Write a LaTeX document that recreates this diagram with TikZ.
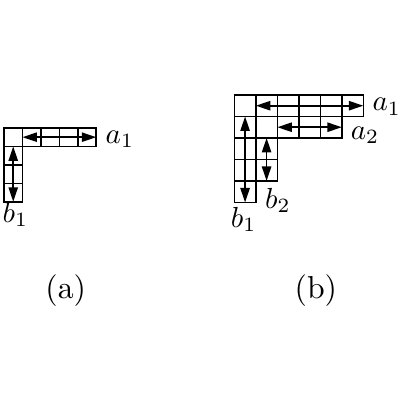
\documentclass[tikz,border=0pt]{standalone}
\usepackage{amsmath}
\usetikzlibrary{arrows.meta}
\tikzset{
hk/.tip={Triangle[length=5pt,width=3.2pt]},
HK/.style={hk-hk},
lab/.style={anchor=base west, inner sep=0pt},
captxt/.style={anchor=base, inner sep=0pt, font=\fontsize{10.95}{13}\selectfont}
}
\begin{document}
\begin{tikzpicture}[line width=0.55pt]
\useasboundingbox (0,0) rectangle (4.848,4.848);

% (a)
\begin{scope}[shift={(0.0485,3.297)},scale=0.2236]
\foreach \i in {0,...,4} \draw (\i,0) rectangle ++(1,-1);
\foreach \j in {1,...,3} \draw (0,-\j) rectangle ++(1,-1);
\coordinate (ra0) at (1,-0.5);
\coordinate (ra1) at (5,-0.5);
\coordinate (ca0) at (0.5,-1);
\coordinate (ca1) at (0.5,-4);
\draw[HK] (ra0) -- (ra1);
\draw[HK] (ca0) -- (ca1);
\node[lab] (a1) at (5.47,-0.83) {$a_1$};
\node[lab] (b1) at (-0.12,-5.13) {$b_1$};
\end{scope}

% (b)
\begin{scope}[shift={(2.840,3.697)},scale=0.2606]
\foreach \i in {0,...,5} \draw (\i,0) rectangle ++(1,-1);
\foreach \j in {1,...,4} \draw (0,-\j) rectangle ++(1,-1);
\foreach \i in {1,...,4} \draw (\i,-1) rectangle ++(1,-1);
\foreach \j in {2,3} \draw (1,-\j) rectangle ++(1,-1);
\coordinate (rb0) at (1,-0.5);
\coordinate (rb1) at (6,-0.5);
\coordinate (rc0) at (2,-1.5);
\coordinate (rc1) at (5,-1.5);
\coordinate (cb0) at (0.5,-1);
\coordinate (cb1) at (0.5,-5);
\coordinate (cc0) at (1.5,-2);
\coordinate (cc1) at (1.5,-4);
\draw[HK] (rb0) -- (rb1);
\draw[HK] (rc0) -- (rc1);
\draw[HK] (cb0) -- (cb1);
\draw[HK] (cc0) -- (cc1);
\node[lab] (a1b) at (6.39,-0.74) {$a_1$};
\node[lab] (a2b) at (5.38,-2.06) {$a_2$};
\node[lab] (b2b) at (1.40,-5.27) {$b_2$};
\node[lab] (b1b) at (-0.2,-6.17) {$b_1$};
\end{scope}

\node[captxt] (capa) at (0.797,1.227) {(a)};
\node[captxt] (capb) at (3.828,1.227) {(b)};
\end{tikzpicture}
\end{document}
